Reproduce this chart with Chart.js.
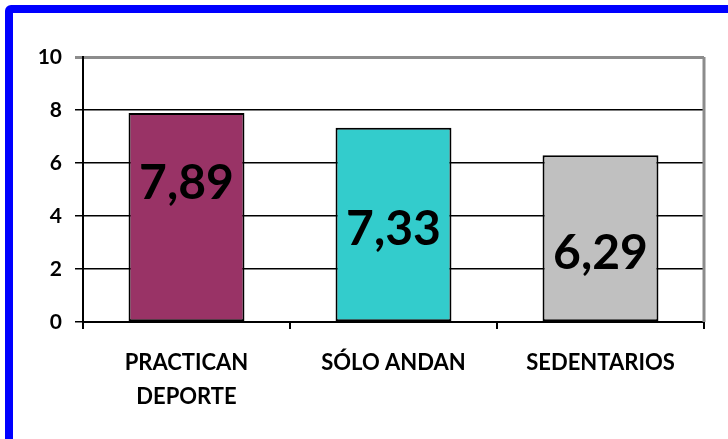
<!DOCTYPE html>
<html>
<head>
<meta charset="utf-8">
<script src="https://cdn.jsdelivr.net/npm/chart.js@4/dist/chart.umd.min.js"></script>
<style>
  html, body { margin: 0; padding: 0; background: #fff; overflow: hidden; }
  #frame { position: absolute; left: 5px; top: 5px; width: 760px; height: 470px;
           border: 8px solid #0000ff; border-radius: 6px; box-sizing: border-box; }
  #c { position: absolute; left: 0; top: 0; }
</style>
</head>
<body>
<div id="frame"></div>
<canvas id="c" width="728" height="439"></canvas>
<script>
const categories = [["PRACTICAN", "DEPORTE"], ["SÓLO ANDAN"], ["SEDENTARIOS"]];
const values = [7.89, 7.33, 6.29];
const valueLabels = ["7,89", "7,33", "6,29"];
const yTicks = [0, 2, 4, 6, 8, 10];
const barColors = ["#993366", "#33CCCC", "#C0C0C0"];

const FONT = "Lato, 'Open Sans', sans-serif";

const frameLines = {
  id: 'frameLines',
  afterDatasetsDraw(chart) {
    const a = chart.chartArea, ctx = chart.ctx;
    ctx.save();
    ctx.strokeStyle = '#8c8c8c';
    ctx.lineWidth = 3;
    ctx.beginPath();
    ctx.moveTo(a.right, a.top);
    ctx.lineTo(a.right, a.bottom);
    ctx.stroke();
    ctx.restore();
  }
};

const valueText = {
  id: 'valueText',
  afterDatasetsDraw(chart, args, opts) {
    const ctx = chart.ctx;
    const meta = chart.getDatasetMeta(0);
    ctx.save();
    ctx.font = "bold 48px " + FONT;
    ctx.fillStyle = '#000';
    ctx.textAlign = 'center';
    ctx.textBaseline = 'alphabetic';
    meta.data.forEach((bar, i) => {
      ctx.fillText(valueLabels[i], bar.x, bar.y + opts.offsets[i]);
    });
    ctx.restore();
  }
};

new Chart(document.getElementById('c'), {
  type: 'bar',
  data: {
    labels: categories,
    datasets: [{
      data: values,
      backgroundColor: barColors,
      borderColor: '#000',
      borderWidth: 2,
      borderSkipped: false,
      barPercentage: 0.56,
      categoryPercentage: 1.0
    }]
  },
  options: {
    responsive: false,
    animation: false,
    devicePixelRatio: 1,
    layout: { padding: { left: 0, right: 24, top: 57, bottom: 0 } },
    plugins: {
      legend: { display: false },
      tooltip: { enabled: false },
      valueText: { offsets: [86, 117, 114] }
    },
    scales: {
      x: {
        offset: true,
        grid: { display: true, offset: true, drawOnChartArea: false, drawTicks: true,
                tickLength: 7, color: '#000', lineWidth: 2 },
        border: { display: true, color: '#000', width: 2 },
        ticks: { color: '#000', font: { family: FONT, weight: 'bold', size: 22, lineHeight: 1.55 },
                 padding: 17, maxRotation: 0, autoSkip: false },
        afterFit(scale) { scale.height = 117; }
      },
      y: {
        min: 0, max: 10,
        afterBuildTicks(scale) { scale.ticks = yTicks.map(v => ({ value: v })); },
        grid: {
          drawTicks: true, tickLength: 8,
          color: ctx => ctx.tick && ctx.tick.value === 10 ? '#8c8c8c' : '#000',
          lineWidth: ctx => ctx.tick && ctx.tick.value === 10 ? 3 : 1.5
        },
        border: { display: true, color: '#000', width: 2 },
        ticks: { color: '#000', font: { family: FONT, weight: 'bold', size: 21 }, padding: 13 },
        afterFit(scale) { scale.width = 83; }
      }
    }
  },
  plugins: [frameLines, valueText]
});
</script>
</body>
</html>
